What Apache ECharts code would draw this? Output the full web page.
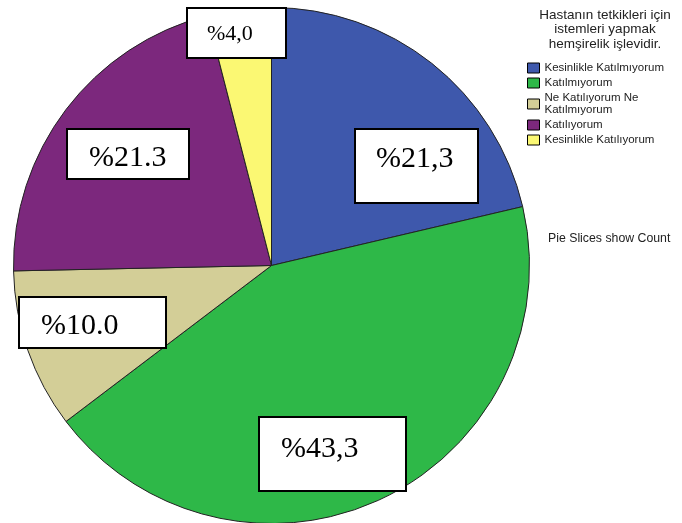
<!DOCTYPE html>
<html><head><meta charset="utf-8">
<script src="https://cdn.jsdelivr.net/npm/echarts@6/dist/echarts.min.js"></script>
<style>html,body{margin:0;padding:0;background:#fff}#chart{width:682px;height:523px}</style>
</head><body><div id="chart"></div>
<script>
// Response categories and counts (n = 150)
const categories = ['Kesinlikle Katılmıyorum', 'Katılmıyorum', 'Ne Katılıyorum Ne Katılmıyorum', 'Katılıyorum', 'Kesinlikle Katılıyorum'];
const counts = [32, 65, 15, 32, 6];
const decimalMarks = [',', ',', '.', '.', ','];
const colors = ['#3E58AC', '#2EB848', '#D3CE97', '#7C287D', '#FBF873'];
const legendTitle = 'Hastanın tetkikleri için\nistemleri yapmak\nhemşirelik işlevidir.';
const footnote = 'Pie Slices show Count';

// Label box placement: [left, top, boxWidth, boxHeight, padLeft, padTop, fontSize]
const labelBoxes = [
  [356, 130, 121, 72, 20, 14, 30],
  [260, 418, 145, 72, 21, 16, 30],
  [20, 298, 145, 49, 21, 13, 30],
  [68, 130, 120, 48, 21, 13, 30],
  [188, 9, 97, 48, 19, 14, 22]
];

const total = counts.reduce((a, b) => a + b, 0);
const pctText = i => '%' + (counts[i] / total * 100).toFixed(1).replace('.', decimalMarks[i]);

const data = categories.map((name, i) => {
  const b = labelBoxes[i];
  return {
    name, value: counts[i],
    itemStyle: { color: colors[i] },
    label: {
      fontSize: b[6], lineHeight: b[6],
      padding: [b[5], 0, 0, b[4]],
      width: b[2] - b[4], height: b[3] - b[5]
    }
  };
});

const sans = 'Liberation Sans, Arial, sans-serif';
const chart = echarts.init(document.getElementById('chart'), null, { renderer: 'canvas' });
chart.setOption({
  animation: false,
  title: [
    { text: legendTitle, left: 605, top: 8, textAlign: 'center', padding: 0,
      textStyle: { fontFamily: sans, fontSize: 13.5, lineHeight: 14.5, fontWeight: 'normal', color: '#222' } },
    { text: footnote, left: 548, top: 233, padding: 0,
      textStyle: { fontFamily: sans, fontSize: 12.3, fontWeight: 'normal', color: '#222' } }
  ],
  legend: {
    orient: 'vertical', left: 527, top: 62, padding: 0,
    itemWidth: 12, itemHeight: 10, itemGap: 3, icon: 'rect',
    itemStyle: { borderColor: '#000', borderWidth: 1 },
    formatter: n => n.length > 24 ? n.replace(/ (\S+)$/, '\n$1') : n,
    textStyle: { fontFamily: sans, fontSize: 11.5, lineHeight: 12, color: '#222' },
    selectedMode: false
  },
  series: [{
    type: 'pie',
    center: [271.5, 265.5],
    radius: 258,
    startAngle: 90,
    clockwise: true,
    data,
    itemStyle: { borderColor: '#222', borderWidth: 1 },
    emphasis: { disabled: true },
    labelLine: { show: false },
    label: {
      show: true, position: 'inside', overflow: 'none',
      formatter: p => pctText(p.dataIndex),
      fontFamily: 'Liberation Serif, Times New Roman, serif',
      color: '#000', backgroundColor: '#fff',
      borderColor: '#000', borderWidth: 2
    },
    labelLayout: p => {
      const b = labelBoxes[p.dataIndex];
      return { x: b[0], y: b[1], align: 'left', verticalAlign: 'top', hideOverlap: false, moveOverlap: false };
    }
  }]
});
</script>
</body></html>
